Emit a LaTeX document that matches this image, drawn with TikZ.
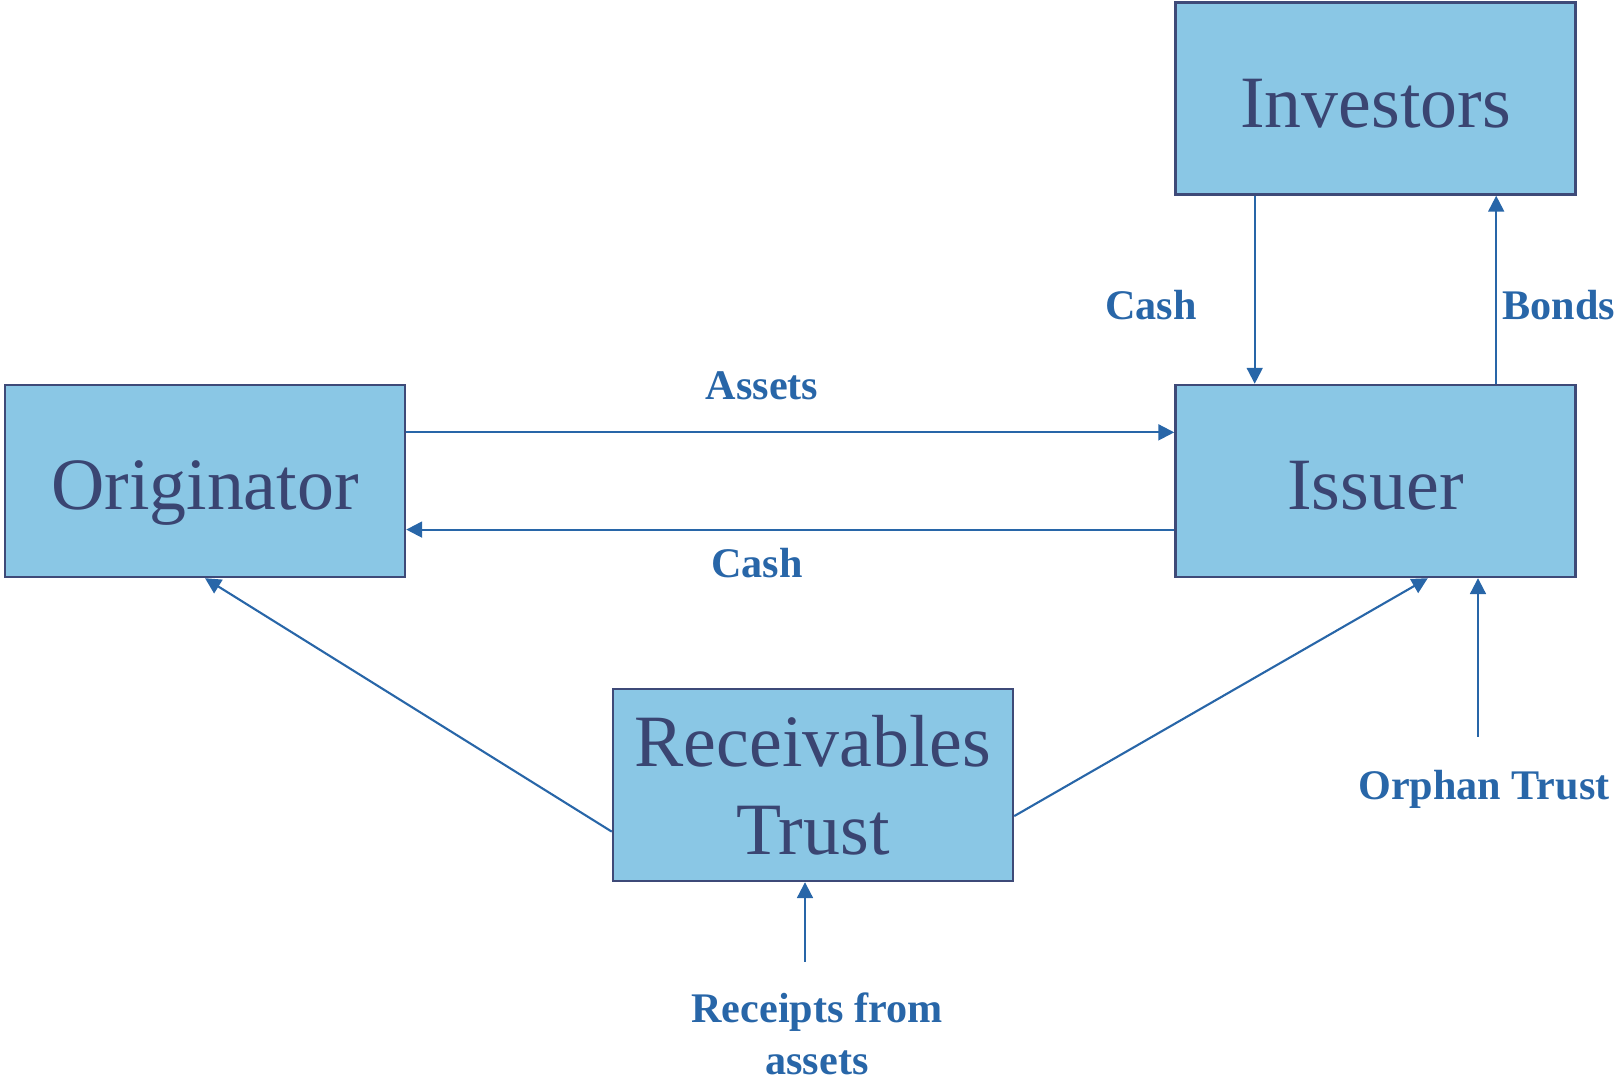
\documentclass[tikz,border=0pt]{standalone}
\usepackage{fontspec}
\setmainfont{Liberation Serif}
\usetikzlibrary{arrows.meta,positioning,calc}
\definecolor{secFill}{HTML}{8AC7E5}
\definecolor{secInk}{HTML}{3A4572}
\definecolor{secEdge}{HTML}{3E4A78}
\definecolor{secBlue}{HTML}{2866A8}
\tikzset{
  party/.style={draw=secEdge, fill=secFill, line width=0.7pt, minimum width=4cm, minimum height=1.92cm, inner sep=2pt, text=secInk, font=\fontsize{21}{25}\selectfont, align=center},
  partyOne/.style={party, text height=0.75cm, text depth=0.17cm},
  flow/.style={-{Triangle[length=4.5pt,width=4.5pt]}, line width=0.6pt, draw=secBlue},
  flowlbl/.style={text=secBlue, inner sep=0pt, font=\bfseries\fontsize{12}{14.7}\selectfont, align=center},
}

\begin{document}
\begin{tikzpicture}
    \useasboundingbox (0,0) rectangle (16.18,10.81);
    % parties
    \node[partyOne] (org) at (2.05,6.00) {Originator};
    \node[partyOne, right=7.68cm of org] (iss) {Issuer};
    \node[partyOne, above=1.88cm of iss] (inv) {Investors};
    \node[party] (trust) at (8.13,2.96) {Receivables\\Trust};
    % labels
    \node[flowlbl] (lAssets) at (7.62,6.95) {Assets};
    \node[flowlbl] (lCashO) at (7.57,5.18) {Cash};
    \node[flowlbl] (lCashI) at (11.51,7.76) {Cash};
    \node[flowlbl] (lBonds) at (15.59,7.76) {Bonds};
    \node[flowlbl] (lOrph) at (14.84,2.92) {Orphan Trust};
    \node[flowlbl] (lRcpt) at (8.17,0.47) {Receipts from\\assets};
    \coordinate (orphSrc) at (14.78,3.44);
    \coordinate (rcptSrc) at (8.05,1.19);
    % originator <-> issuer
    \coordinate (a1) at ($(org.north east)!0.25!(org.south east)$);
    \coordinate (c1) at ($(org.north east)!0.75!(org.south east)$);
    \draw[flow] (a1) -- (a1 -| iss.west);
    \draw[flow] (c1 -| iss.west) -- (c1);
    % investors <-> issuer
    \coordinate (i1) at ($(inv.south west)!0.2!(inv.south east)$);
    \coordinate (b1) at ($(iss.north west)!0.8!(iss.north east)$);
    \draw[flow] (i1) -- (i1 |- iss.north);
    \draw[flow] (b1) -- (b1 |- inv.south);
    % trust outflows
    \draw[flow] ($(trust.north west)!0.74!(trust.south west)$) -- (org.south);
    \draw[flow] ($(trust.north east)!0.66!(trust.south east)$) -- ($(iss.south west)!0.63!(iss.south east)$);
    % inflows from below
    \draw[flow] (orphSrc) -- (orphSrc |- iss.south);
    \draw[flow] (rcptSrc) -- (rcptSrc |- trust.south);
\end{tikzpicture}
\end{document}
